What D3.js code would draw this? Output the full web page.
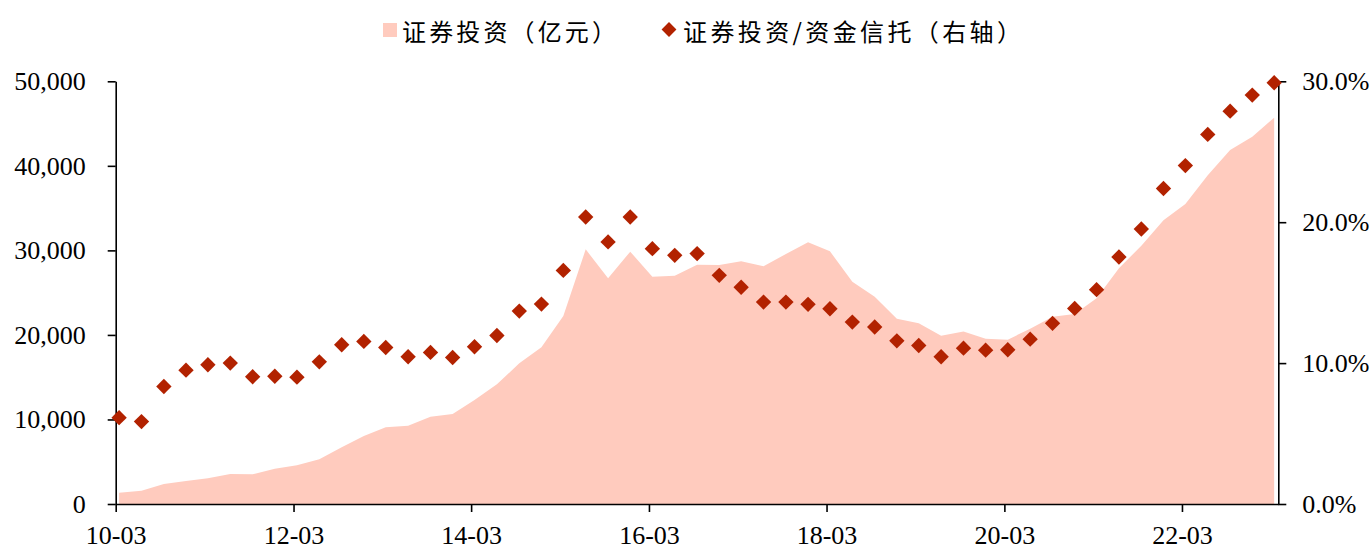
<!DOCTYPE html>
<html>
<head>
<meta charset="utf-8">
<script src="https://cdn.jsdelivr.net/npm/d3@7/dist/d3.min.js"></script>
<style>
  html, body { margin: 0; padding: 0; background: #fff; }
  svg { display: block; }
  .tick text { font-family: "Liberation Serif", "Times New Roman", serif; font-size: 26px; fill: #000; }
  .legend text { font-family: "Noto Sans CJK SC", sans-serif; font-size: 24px; fill: #000; }
</style>
</head>
<body>
<svg id="chart" width="1370" height="547"></svg>
<script>
// Quarter labels (yy-mm), 2010Q1 .. 2023Q1
const quarters = [
  "10-03","10-06","10-09","10-12","11-03","11-06","11-09","11-12",
  "12-03","12-06","12-09","12-12","13-03","13-06","13-09","13-12",
  "14-03","14-06","14-09","14-12","15-03","15-06","15-09","15-12",
  "16-03","16-06","16-09","16-12","17-03","17-06","17-09","17-12",
  "18-03","18-06","18-09","18-12","19-03","19-06","19-09","19-12",
  "20-03","20-06","20-09","20-12","21-03","21-06","21-09","21-12",
  "22-03","22-06","22-09","22-12","23-03"
];

// 证券投资（亿元）
const securitiesInvestment = [
  1340, 1580, 2370, 2720, 3040, 3550, 3510, 4180,
  4570, 5280, 6700, 8040, 9070, 9270, 10330, 10650,
  12300, 14160, 16640, 18530, 22240, 30120, 26690, 29850,
  26890, 27010, 28310, 28270, 28710, 28110, 29570, 30950,
  29890, 26300, 24520, 21900, 21370, 19910, 20390, 19560,
  19440, 20740, 22160, 22470, 24330, 27880, 30560, 33560,
  35490, 38880, 41870, 43450, 45700
];

// 证券投资/资金信托（%，右轴）
const securitiesShare = [
  6.13, 5.85, 8.34, 9.50, 9.88, 10.00, 9.03, 9.07,
  9.00, 10.09, 11.30, 11.54, 11.11, 10.45, 10.76, 10.40,
  11.16, 11.96, 13.69, 14.19, 16.58, 20.37, 18.60, 20.37,
  18.12, 17.65, 17.77, 16.23, 15.38, 14.33, 14.33, 14.17,
  13.86, 12.91, 12.56, 11.58, 11.25, 10.45, 11.06, 10.92,
  10.95, 11.70, 12.82, 13.88, 15.21, 17.53, 19.52, 22.39,
  24.02, 26.23, 27.88, 29.02, 29.90
];

const leftTicks = [0, 10000, 20000, 30000, 40000, 50000];
const rightTicks = [0, 10, 20, 30];
const xTickLabels = ["10-03","12-03","14-03","16-03","18-03","20-03","22-03"];

const legendLabels = ["证券投资（亿元）", "证券投资/资金信托（右轴）"];

const areaColor = "#FFCBBE";
const markColor = "#B22200";

const parseMonth = d3.timeParse("%y-%m");
// each quarterly value sits mid-month within its month slot
const pointDate = q => d3.timeDay.offset(parseMonth(q), 14);

const svg = d3.select("#chart");
const plot = { left: 115.7, right: 1278.3, top: 81.3, bottom: 504 };

const x = d3.scaleTime()
  .domain([parseMonth("10-03"), parseMonth("23-04")])
  .range([plot.left, plot.right]);
const yL = d3.scaleLinear().domain([0, 50000]).range([plot.bottom, plot.top]);
const yR = d3.scaleLinear().domain([0, 30]).range([plot.bottom, plot.top]);

const rows = quarters.map((q, i) => ({
  date: pointDate(q),
  amount: securitiesInvestment[i],
  share: securitiesShare[i]
}));

// area series
svg.append("path")
  .datum(rows)
  .attr("fill", areaColor)
  .attr("d", d3.area()
    .x(d => x(d.date))
    .y0(yL(0))
    .y1(d => yL(d.amount)));

// axes
const fmtThousands = d3.format(",");
const leftAxis = svg.append("g")
  .attr("transform", `translate(${plot.left},0)`)
  .call(d3.axisLeft(yL).tickValues(leftTicks).tickFormat(fmtThousands).tickSize(8).tickSizeOuter(0).tickPadding(22));

const rightAxis = svg.append("g")
  .attr("transform", `translate(${plot.right},0)`)
  .call(d3.axisRight(yR).tickValues(rightTicks).tickFormat(d => d3.format(".1f")(d) + "%").tickSize(8).tickSizeOuter(0).tickPadding(16));

const bottomAxis = svg.append("g")
  .attr("transform", `translate(0,${plot.bottom})`)
  .call(d3.axisBottom(x).tickValues(xTickLabels.map(parseMonth)).tickFormat(d3.timeFormat("%y-%m")).tickSize(8).tickSizeOuter(0).tickPadding(14));

[leftAxis, rightAxis, bottomAxis].forEach(g => {
  g.select(".domain").attr("stroke", "#000").attr("stroke-width", 1.6);
  g.selectAll(".tick line").attr("stroke", "#000").attr("stroke-width", 1.6);
});

// diamond markers (right axis)
const diamond = d3.symbol().type(d3.symbolSquare).size(118);
svg.append("g")
  .selectAll("path")
  .data(rows)
  .join("path")
  .attr("d", diamond)
  .attr("fill", markColor)
  .attr("transform", d => `translate(${x(d.date)},${yR(d.share)}) rotate(45)`);

// legend
const legend = svg.append("g").attr("class", "legend");
legend.append("rect")
  .attr("x", 383).attr("y", 23).attr("width", 14).attr("height", 14)
  .attr("fill", areaColor);
legend.append("text")
  .attr("x", 402).attr("y", 30).attr("dominant-baseline", "central")
  .attr("textLength", 214).attr("lengthAdjust", "spacing")
  .text(legendLabels[0]);
legend.append("path")
  .attr("d", d3.symbol().type(d3.symbolSquare).size(110))
  .attr("fill", markColor)
  .attr("transform", "translate(669,29.5) rotate(45)");
legend.append("text")
  .attr("x", 683).attr("y", 30).attr("dominant-baseline", "central")
  .attr("textLength", 338).attr("lengthAdjust", "spacing")
  .text(legendLabels[1]);
</script>
</body>
</html>
